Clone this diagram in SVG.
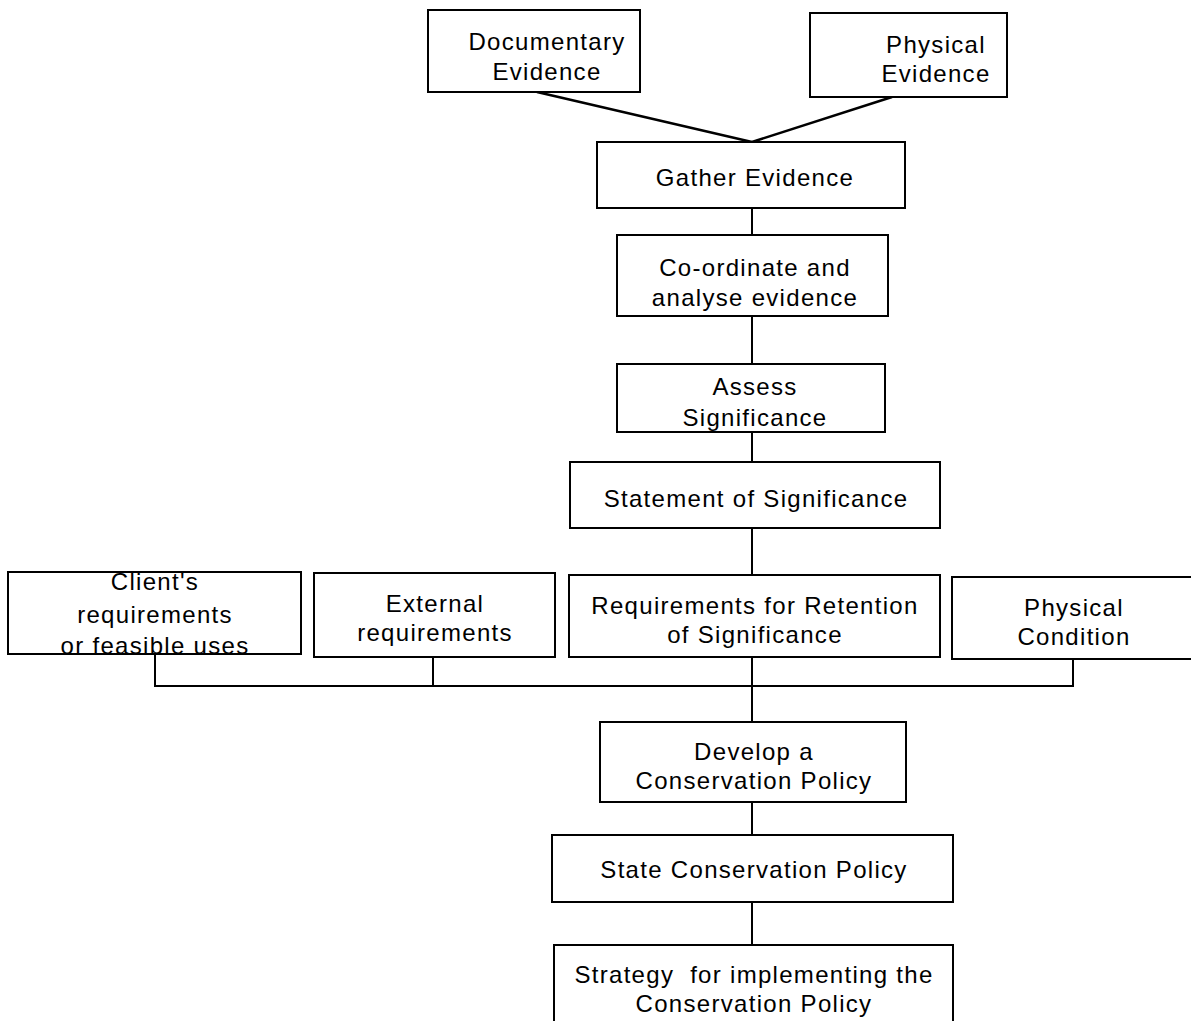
<svg xmlns="http://www.w3.org/2000/svg" width="1191" height="1021" viewBox="0 0 1191 1021">
<style>
rect.box{fill:#fff;stroke:#000;stroke-width:2}
text{font-family:"Liberation Sans",Arial,sans-serif;font-size:24px;fill:#000;text-anchor:middle;letter-spacing:1.3px}
.conn line,.conn polyline{stroke:#000;stroke-width:2;fill:none}
</style>
<rect width="1191" height="1021" fill="#fff"/>
<g class="conn" id="connectors">
<line x1="537" y1="92" x2="752" y2="142" style="stroke-width:2.5"/>
<line x1="892" y1="97" x2="752" y2="142" style="stroke-width:2.5"/>
<line x1="752" y1="208" x2="752" y2="235"/>
<line x1="752" y1="316" x2="752" y2="364"/>
<line x1="752" y1="432" x2="752" y2="462"/>
<line x1="752" y1="528" x2="752" y2="575"/>
<polyline points="155,654 155,686 1073,686 1073,659"/>
<line x1="433" y1="657" x2="433" y2="686"/>
<line x1="752" y1="657" x2="752" y2="722"/>
<line x1="752" y1="802" x2="752" y2="835"/>
<line x1="752" y1="902" x2="752" y2="945"/>
</g>
<g id="documentary"><rect class="box" x="428" y="10" width="212" height="82"/><text x="547" y="50">Documentary</text><text x="547" y="80">Evidence</text></g>
<g id="physical-evidence"><rect class="box" x="810" y="13" width="197" height="84"/><text x="936" y="53">Physical</text><text x="936" y="82">Evidence</text></g>
<g id="gather"><rect class="box" x="597" y="142" width="308" height="66"/><text x="755" y="186">Gather Evidence</text></g>
<g id="coordinate"><rect class="box" x="617" y="235" width="271" height="81"/><text x="755" y="276">Co-ordinate and</text><text x="755" y="306">analyse evidence</text></g>
<g id="assess"><rect class="box" x="617" y="364" width="268" height="68"/><text x="755" y="395">Assess</text><text x="755" y="426">Significance</text></g>
<g id="statement"><rect class="box" x="570" y="462" width="370" height="66"/><text x="756" y="507">Statement of Significance</text></g>
<g id="clients"><rect class="box" x="8" y="572" width="293" height="82"/><text x="155" y="590">Client's</text><text x="155" y="623">requirements</text><text x="155" y="654">or feasible uses</text></g>
<g id="external"><rect class="box" x="314" y="573" width="241" height="84"/><text x="435" y="612">External</text><text x="435" y="641">requirements</text></g>
<g id="retention"><rect class="box" x="569" y="575" width="371" height="82"/><text x="755" y="614">Requirements for Retention</text><text x="755" y="643">of Significance</text></g>
<g id="condition"><rect class="box" x="952" y="577" width="245" height="82"/><text x="1074" y="616">Physical</text><text x="1074" y="645">Condition</text></g>
<g id="develop"><rect class="box" x="600" y="722" width="306" height="80"/><text x="754" y="760">Develop a</text><text x="754" y="789">Conservation Policy</text></g>
<g id="state"><rect class="box" x="552" y="835" width="401" height="67"/><text x="754" y="878">State Conservation Policy</text></g>
<g id="strategy"><rect class="box" x="554" y="945" width="399" height="90"/><text x="754" y="983" xml:space="preserve">Strategy  for implementing the</text><text x="754" y="1012">Conservation Policy</text></g>
</svg>
